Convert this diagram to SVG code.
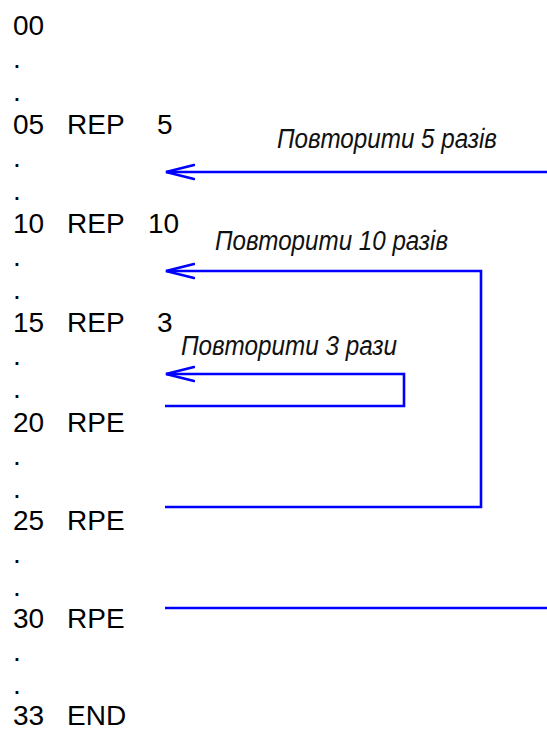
<svg xmlns="http://www.w3.org/2000/svg" width="547" height="731" viewBox="0 0 547 731">
  <style>
    .code { font-family: "Liberation Sans", Arial, sans-serif; font-size: 28px; fill: #000; }
    .note { font-family: "Liberation Sans", Arial, sans-serif; font-size: 27px; font-style: italic; fill: #111; }
    .wire { fill: none; stroke: #0000ff; stroke-width: 2.6; stroke-linejoin: miter; }
  </style>
  <defs>
    <!-- open chevron head; the tip sits on the end of the wire -->
    <marker id="openArrow" viewBox="0 0 30 18" refX="29" refY="9" markerWidth="30" markerHeight="18" markerUnits="userSpaceOnUse" orient="auto">
      <path d="M1,2 L29,9 L1,16" fill="none" stroke="#0000ff" stroke-width="2.6" stroke-linecap="round" stroke-linejoin="miter"/>
    </marker>
  </defs>

  <rect width="547" height="731" fill="#ffffff"/>

  <!-- program listing -->
  <g id="listing">
    <text class="code" x="13" y="35">00</text>
    <text class="code" x="13" y="68">.</text>
    <text class="code" x="13" y="101">.</text>
    <g id="line05">
      <text class="code" x="13" y="134">05</text>
      <text class="code" x="67" y="134">REP</text>
      <text class="code" x="157" y="134">5</text>
    </g>
    <text class="code" x="13" y="167">.</text>
    <text class="code" x="13" y="200">.</text>
    <g id="line10">
      <text class="code" x="13" y="233">10</text>
      <text class="code" x="67" y="233">REP</text>
      <text class="code" x="148" y="233">10</text>
    </g>
    <text class="code" x="13" y="266">.</text>
    <text class="code" x="13" y="299">.</text>
    <g id="line15">
      <text class="code" x="13" y="332">15</text>
      <text class="code" x="67" y="332">REP</text>
      <text class="code" x="157" y="332">3</text>
    </g>
    <text class="code" x="13" y="365">.</text>
    <text class="code" x="13" y="398">.</text>
    <g id="line20">
      <text class="code" x="13" y="432">20</text>
      <text class="code" x="67" y="432">RPE</text>
    </g>
    <text class="code" x="13" y="465">.</text>
    <text class="code" x="13" y="498">.</text>
    <g id="line25">
      <text class="code" x="13" y="530">25</text>
      <text class="code" x="67" y="530">RPE</text>
    </g>
    <text class="code" x="13" y="563">.</text>
    <text class="code" x="13" y="596">.</text>
    <g id="line30">
      <text class="code" x="13" y="628">30</text>
      <text class="code" x="67" y="628">RPE</text>
    </g>
    <text class="code" x="13" y="661">.</text>
    <text class="code" x="13" y="694">.</text>
    <g id="line33">
      <text class="code" x="13" y="725">33</text>
      <text class="code" x="67" y="725">END</text>
    </g>
  </g>

  <!-- loop connectors -->
  <g id="connectors">
    <!-- outer loop: REP 5 ... RPE at 30 (runs off the right edge) -->
    <path class="wire" d="M548,172 L166,172" marker-end="url(#openArrow)"/>
    <path class="wire" d="M165,608 L548,608"/>
    <!-- middle loop: REP 10 ... RPE at 25 -->
    <path class="wire" d="M165,507 L481,507 L481,271 L166,271" marker-end="url(#openArrow)"/>
    <!-- inner loop: REP 3 ... RPE at 20 -->
    <path class="wire" d="M165,406 L404,406 L404,374 L166,374" marker-end="url(#openArrow)"/>
  </g>

  <!-- loop labels -->
  <g id="labels">
    <text class="note" x="277" y="148" textLength="220" lengthAdjust="spacingAndGlyphs">Повторити 5 разів</text>
    <text class="note" x="215" y="250" textLength="233" lengthAdjust="spacingAndGlyphs">Повторити 10 разів</text>
    <text class="note" x="181" y="355" textLength="216" lengthAdjust="spacingAndGlyphs">Повторити 3 рази</text>
  </g>
</svg>
